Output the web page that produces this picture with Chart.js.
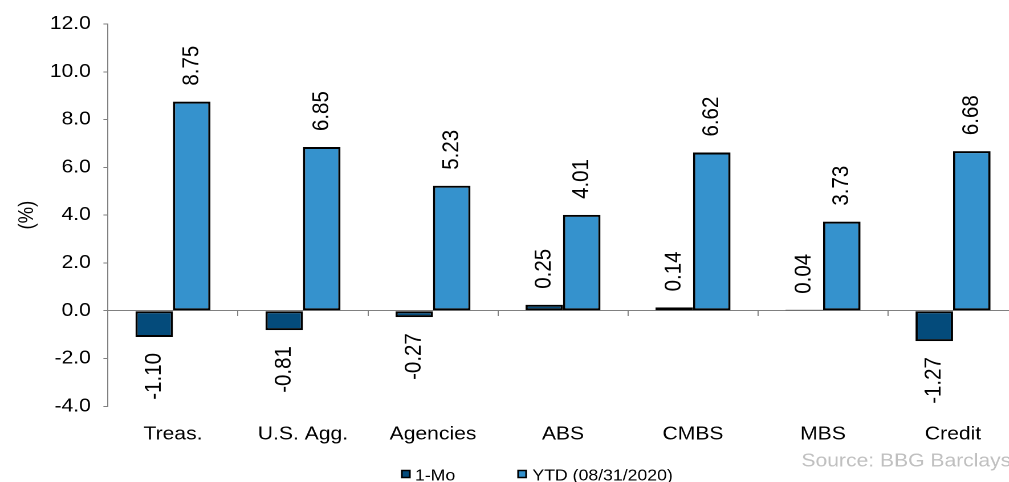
<!DOCTYPE html>
<html>
<head>
<meta charset="utf-8">
<script src="https://cdn.jsdelivr.net/npm/chart.js@4.4.1/dist/chart.umd.min.js"></script>
<style>
  html, body { margin: 0; padding: 0; background: #fff; overflow: hidden; width: 1009px; height: 482px; }
  #wrap { position: absolute; left: 0; top: 0; width: 904px; height: 482px; transform: scaleX(1.14); transform-origin: 0 0; }
</style>
</head>
<body>
<div id="wrap"><canvas id="c" width="904" height="482"></canvas></div>
<script>
// Bond sector returns
const categories = ['Treas.', 'U.S. Agg.', 'Agencies', 'ABS', 'CMBS', 'MBS', 'Credit'];
const seriesNames = ['1-Mo', 'YTD (08/31/2020)'];
const oneMonth = [-1.10, -0.81, -0.27, 0.25, 0.14, 0.04, -1.27];
const ytd = [8.75, 6.85, 5.23, 4.01, 6.62, 3.73, 6.68];
const yTickValues = [-4, -2, 0, 2, 4, 6, 8, 10, 12];
const yTitle = '(%)';
const sourceNote = 'Source: BBG Barclays';

const FONT = '"Liberation Sans", Arial, Helvetica, sans-serif';
const DARK = '#044b7b';
const LIGHT = '#3592cd';

// Rotated value labels above positive bars, below negative bars
const valueLabels = {
  id: 'valueLabels',
  afterDatasetsDraw(chart) {
    const ctx = chart.ctx;
    ctx.save();
    ctx.font = '20.5px ' + FONT;
    ctx.fillStyle = '#000';
    ctx.textBaseline = 'middle';
    chart.data.datasets.forEach((ds, i) => {
      const meta = chart.getDatasetMeta(i);
      meta.data.forEach((bar, j) => {
        const v = ds.data[j];
        const top = Math.min(bar.y, bar.base);
        const bottom = Math.max(bar.y, bar.base);
        ctx.save();
        if (v >= 0) {
          ctx.translate(bar.x, top - 16);
          ctx.rotate(-Math.PI / 2);
          ctx.textAlign = 'left';
        } else {
          ctx.translate(bar.x, bottom + 16);
          ctx.rotate(-Math.PI / 2);
          ctx.textAlign = 'right';
        }
        ctx.fillText(v.toFixed(2), 0, 0);
        ctx.restore();
      });
    });
    ctx.restore();
  }
};

// Legend row and source note along the bottom edge
const footer = {
  id: 'footer',
  afterDraw(chart) {
    const ctx = chart.ctx;
    ctx.save();
    const items = [
      { box: 352.5, text: 364 },
      { box: 454.5, text: 467 }
    ];
    ctx.font = '15.5px ' + FONT;
    ctx.textBaseline = 'alphabetic';
    ctx.textAlign = 'left';
    chart.data.datasets.forEach((ds, i) => {
      const it = items[i];
      ctx.fillStyle = ds.backgroundColor;
      ctx.fillRect(it.box, 470.5, 7, 7);
      ctx.strokeStyle = '#000';
      ctx.lineWidth = 1.5;
      ctx.strokeRect(it.box, 470.5, 7, 7);
      ctx.fillStyle = '#000';
      ctx.fillText(ds.label, it.text, 480.5);
    });
    ctx.font = '18.5px ' + FONT;
    ctx.fillStyle = '#c0c0c0';
    ctx.fillText(sourceNote, 703, 466.5);
    ctx.restore();
  }
};

new Chart(document.getElementById('c'), {
  type: 'bar',
  data: {
    labels: categories,
    datasets: [
      { label: seriesNames[0], data: oneMonth, backgroundColor: DARK, borderColor: '#000', borderWidth: 2, borderSkipped: false, xAxisID: 'x' },
      { label: seriesNames[1], data: ytd, backgroundColor: LIGHT, borderColor: '#000', borderWidth: 2, borderSkipped: false, xAxisID: 'x' }
    ]
  },
  options: {
    responsive: false,
    devicePixelRatio: 2,
    animation: false,
    layout: { padding: { left: 0, right: 11, top: 24, bottom: 19.5 } },
    datasets: { bar: { categoryPercentage: 0.577, barPercentage: 1.0 } },
    plugins: { legend: { display: false }, tooltip: { enabled: false } },
    scales: {
      x: {
        type: 'category',
        position: { y: 0 },
        offset: true,
        grid: { offset: true, drawOnChartArea: false, drawTicks: true, tickLength: 5, color: '#808080', lineWidth: 1 },
        border: { display: true, color: '#808080', width: 1 },
        ticks: { display: false }
      },
      x2: {
        type: 'category',
        position: 'bottom',
        offset: true,
        grid: { display: false, drawTicks: false },
        border: { display: false },
        ticks: { color: '#000', padding: 17, font: { family: FONT, size: 18.5 }, maxRotation: 0, autoSkip: false }
      },
      y: {
        min: yTickValues[0],
        max: yTickValues[yTickValues.length - 1],
        afterFit(s) { s.width = 94.7; },
        afterBuildTicks(s) { s.ticks = yTickValues.map(v => ({ value: v })); },
        grid: { drawOnChartArea: false, drawTicks: true, tickLength: 4, color: '#808080', lineWidth: 1 },
        border: { display: true, color: '#808080', width: 1 },
        ticks: { color: '#000', padding: 11, font: { family: FONT, size: 18.5 }, callback: v => Number(v).toFixed(1) },
        title: { display: true, text: yTitle, color: '#000', font: { family: FONT, size: 18.5 }, padding: { top: 12.6, bottom: 12.6 } }
      }
    }
  },
  plugins: [valueLabels, footer]
});
</script>
</body>
</html>
